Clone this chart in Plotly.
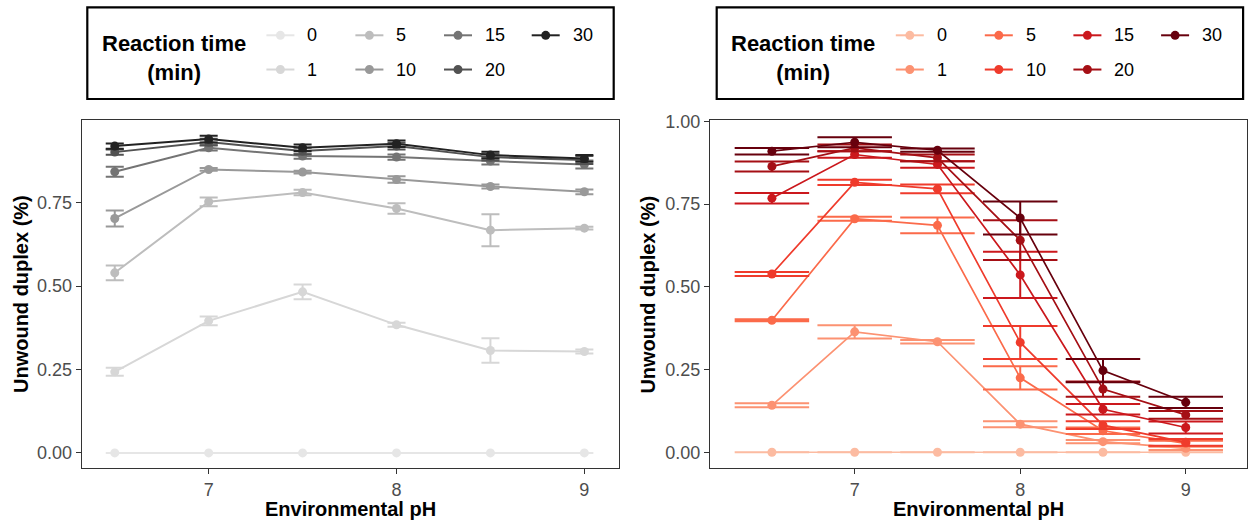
import plotly.graph_objects as go

W, H = 1251, 527

ph = [6.5, 7.0, 7.5, 8.0, 8.5, 9.0]
times = ["0", "1", "5", "10", "15", "20", "30"]

# Left panel (greys)
left_vals = {
    "0":  [0.000, 0.000, 0.000, 0.000, 0.000, 0.000],
    "1":  [0.243, 0.396, 0.483, 0.384, 0.307, 0.304],
    "5":  [0.540, 0.753, 0.781, 0.733, 0.668, 0.674],
    "10": [0.703, 0.850, 0.842, 0.820, 0.799, 0.783],
    "15": [0.843, 0.915, 0.890, 0.887, 0.875, 0.865],
    "20": [0.902, 0.932, 0.905, 0.920, 0.887, 0.878],
    "30": [0.920, 0.941, 0.915, 0.927, 0.893, 0.883],
}
left_err = {
    "0":  [0.000, 0.000, 0.000, 0.000, 0.000, 0.000],
    "1":  [0.012, 0.013, 0.022, 0.006, 0.037, 0.006],
    "5":  [0.022, 0.013, 0.008, 0.016, 0.048, 0.004],
    "10": [0.024, 0.004, 0.004, 0.010, 0.006, 0.007],
    "15": [0.015, 0.008, 0.008, 0.008, 0.010, 0.012],
    "20": [0.008, 0.010, 0.010, 0.010, 0.010, 0.012],
    "30": [0.008, 0.010, 0.010, 0.010, 0.010, 0.010],
}
# Right panel (reds)
right_vals = {
    "0":  [0.000, 0.000, 0.000, 0.000, 0.000, 0.000],
    "1":  [0.142, 0.364, 0.334, 0.085, 0.032, 0.012],
    "5":  [0.399, 0.706, 0.686, 0.225, 0.065, 0.027],
    "10": [0.539, 0.816, 0.796, 0.332, 0.082, 0.030],
    "15": [0.768, 0.900, 0.870, 0.536, 0.130, 0.075],
    "20": [0.864, 0.920, 0.890, 0.641, 0.191, 0.113],
    "30": [0.910, 0.937, 0.913, 0.708, 0.247, 0.151],
}
right_err = {
    "0":  [0.000, 0.000, 0.000, 0.000, 0.000, 0.000],
    "1":  [0.006, 0.020, 0.005, 0.009, 0.005, 0.005],
    "5":  [0.003, 0.006, 0.024, 0.035, 0.010, 0.008],
    "10": [0.006, 0.008, 0.013, 0.050, 0.012, 0.010],
    "15": [0.016, 0.010, 0.010, 0.070, 0.016, 0.018],
    "20": [0.015, 0.010, 0.010, 0.060, 0.023, 0.012],
    "30": [0.010, 0.015, 0.005, 0.050, 0.035, 0.017],
}

greys = ["#E6E6E6", "#D7D7D7", "#BDBDBD", "#999999", "#747474", "#525252", "#222222"]
reds = ["#FCBBA1", "#FC9272", "#FB6A4A", "#EF3B2C", "#CB181D", "#A50F15", "#67000D"]

x_ticks = [7, 8, 9]
y_ticks = [0.0, 0.25, 0.5, 0.75, 1.0]

FONT = "Liberation Sans, Arial, Helvetica, sans-serif"

# panel geometry in px (target positions in the picture)
LP = dict(x0=81.7, x1=619.3)
RP = dict(x0=710.0, x1=1247.0)
PY0, PY1 = 117.3, 467.7
L_XR = [6.324, 9.186]
R_XR = [6.126, 9.370]
L_YR = [-0.0458, 0.997]
R_YR = [-0.048, 1.003]

# vertical calibration of the page area
TOP_OFF, H_EFF = 5.0, 522.0


def px(x):
    return x / W


def py(y):
    return 1 - (y - TOP_OFF) / H_EFF


def px_per_unit(pan, rng):
    return (pan["x1"] - pan["x0"]) / (rng[1] - rng[0])


fig = go.Figure()

# half width of errorbar caps (in px) = half of ggplot errorbar width in data units
l_cap = 0.048 * px_per_unit(LP, L_XR)
r_cap = 0.225 * px_per_unit(RP, R_XR)

for i, t in enumerate(times):
    fig.add_trace(go.Scatter(
        x=ph, y=left_vals[t], mode="lines+markers", name=t,
        line=dict(color=greys[i], width=2),
        marker=dict(color=greys[i], size=9),
        error_y=dict(type="data", array=left_err[t], color=greys[i],
                     thickness=2, width=l_cap),
        xaxis="x", yaxis="y", showlegend=False))

for i, t in enumerate(times):
    fig.add_trace(go.Scatter(
        x=ph, y=right_vals[t], mode="lines+markers", name=t,
        line=dict(color=reds[i], width=1.7),
        marker=dict(color=reds[i], size=9),
        error_y=dict(type="data", array=right_err[t], color=reds[i],
                     thickness=2, width=r_cap),
        xaxis="x2", yaxis="y2", showlegend=False))

axis_common = dict(
    showgrid=False, zeroline=False, showline=True, mirror=True,
    linecolor="#333333", linewidth=1.3, ticks="outside", ticklen=5,
    tickcolor="#333333", tickwidth=1.2,
    tickfont=dict(family=FONT, size=18, color="#4D4D4D"),
)

ydom = [py(PY1), py(PY0)]
fig.update_layout(
    width=W, height=H, margin=dict(l=0, r=0, t=0, b=0),
    paper_bgcolor="white", plot_bgcolor="white",
    xaxis=dict(domain=[px(LP["x0"]), px(LP["x1"])], range=L_XR,
               tickvals=x_ticks, anchor="y", **axis_common),
    yaxis=dict(domain=ydom, range=L_YR,
               tickvals=y_ticks, tickformat=".2f", anchor="x", **axis_common),
    xaxis2=dict(domain=[px(RP["x0"]), px(RP["x1"])], range=R_XR,
                tickvals=x_ticks, anchor="y2", **axis_common),
    yaxis2=dict(domain=ydom, range=R_YR,
                tickvals=y_ticks, tickformat=".2f", anchor="x2", **axis_common),
    showlegend=False,
)

shapes = []
annotations = []

# axis titles
for pan, ytx in [(LP, 21.7), (RP, 648.3)]:
    annotations.append(dict(
        x=px((pan["x0"] + pan["x1"]) / 2), y=py(508.5), xref="paper", yref="paper",
        text="<b>Environmental pH</b>", showarrow=False,
        font=dict(family=FONT, size=20, color="black"),
        xanchor="center", yanchor="middle"))
    annotations.append(dict(
        x=px(ytx), y=py((PY0 + PY1) / 2), xref="paper", yref="paper",
        text="<b>Unwound duplex (%)</b>", showarrow=False, textangle=-90,
        font=dict(family=FONT, size=20, color="black"),
        xanchor="center", yanchor="middle"))

# custom legends (ggplot style, 2 rows, column-major)
box_w = 526.4
col_off = [193.1, 282.1, 370.7, 458.4]
row_y = [31.5, 66.0]
for bx, cols in [(87.3, greys), (716.7, reds)]:
    shapes.append(dict(type="rect", xref="paper", yref="paper",
                       x0=px(bx), x1=px(bx + box_w), y0=py(95.7), y1=py(3.3),
                       line=dict(color="black", width=2.2), fillcolor="rgba(0,0,0,0)"))
    annotations.append(dict(
        x=px(bx + 86.6), y=py(54.0), xref="paper", yref="paper",
        text="<b>Reaction time</b><br><b>(min)</b>", showarrow=False,
        align="center", font=dict(family=FONT, size=22, color="black"),
        xanchor="center", yanchor="middle"))
    for i, t in enumerate(times):
        cx = bx + col_off[i // 2]
        cy = row_y[i % 2]
        shapes.append(dict(type="line", xref="paper", yref="paper",
                           x0=px(cx - 14), x1=px(cx + 14), y0=py(cy), y1=py(cy),
                           line=dict(color=cols[i], width=2)))
        shapes.append(dict(type="circle", xref="paper", yref="paper",
                           x0=px(cx - 4.5), x1=px(cx + 4.5), y0=py(cy + 4.5), y1=py(cy - 4.5),
                           line=dict(color=cols[i], width=0), fillcolor=cols[i]))
        annotations.append(dict(
            x=px(cx + 25), y=py(cy), xref="paper", yref="paper",
            text=t, showarrow=False, font=dict(family=FONT, size=18, color="black"),
            xanchor="left", yanchor="middle"))

fig.update_layout(shapes=shapes, annotations=annotations)

fig.write_html("out.html")
